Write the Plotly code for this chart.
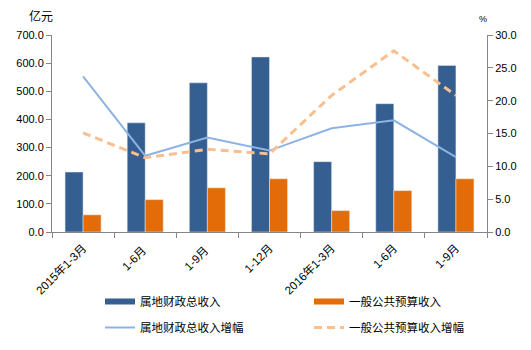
import plotly.graph_objects as go

categories = ["2015年1-3月", "1-6月 ", "1-9月 ", "1-12月", "2016年1-3月", "1-6月", "1-9月"]
total_revenue = [213, 388, 530, 622, 250, 456, 592]
public_budget = [61, 115, 157, 189, 76, 147, 189]
total_growth = [23.7, 11.6, 14.4, 12.4, 15.8, 17.0, 11.4]
public_growth = [15.1, 11.3, 12.6, 11.9, 20.8, 27.6, 20.8]
names = ["属地财政总收入", "一般公共预算收入", "属地财政总收入增幅", "一般公共预算收入增幅"]

C_BLUE = "#365F91"
C_ORANGE = "#E36C09"
C_LBLUE = "#8DB3E2"
C_PEACH = "#F9BF8F"
FONT = "Liberation Sans, Noto Sans CJK SC"

fig = go.Figure()
fig.add_trace(go.Bar(x=categories, y=total_revenue, marker_color=C_BLUE, name=names[0], showlegend=False))
fig.add_trace(go.Bar(x=categories, y=public_budget, marker_color=C_ORANGE, name=names[1], showlegend=False))
fig.add_trace(go.Scatter(x=categories, y=total_growth, mode="lines", yaxis="y2",
                         line=dict(color=C_LBLUE, width=2), name=names[2], legend="legend2"))
fig.add_trace(go.Scatter(x=categories, y=public_growth, mode="lines", yaxis="y2",
                         line=dict(color=C_PEACH, width=3, dash="8px,5px"), name=names[3], legend="legend2"))
# legend entries for the bars, drawn as thick bars like the reference
fig.add_trace(go.Scatter(x=[None], y=[None], mode="lines", line=dict(color=C_BLUE, width=6),
                         name=names[0], legend="legend"))
fig.add_trace(go.Scatter(x=[None], y=[None], mode="lines", line=dict(color=C_ORANGE, width=6),
                         name=names[1], legend="legend"))

axis_common = dict(showline=True, linecolor="#868686", linewidth=1, ticks="outside",
                   tickcolor="#868686", ticklen=5, showgrid=False, zeroline=False,
                   automargin=False,
                   tickfont=dict(size=11, color="#000", family=FONT))

leg_common = dict(orientation="h", xref="container", x=100 / 531, xanchor="left",
                  yref="container", yanchor="middle", bgcolor="rgba(0,0,0,0)",
                  entrywidth=164, entrywidthmode="pixels", traceorder="normal",
                  font=dict(size=11.5, family="Noto Sans CJK SC", color="#000"),
                  itemwidth=30)

fig.update_layout(
    width=531, height=350,
    margin=dict(l=52, r=44, t=35, b=118, autoexpand=False),
    paper_bgcolor="white", plot_bgcolor="white",
    barmode="group", bargap=0.42, bargroupgap=0,
    font=dict(family=FONT, color="#000"),
    xaxis=dict(axis_common, type="category", tickangle=-45, tickson="boundaries",
               ticklabelstandoff=4,
               tickfont=dict(size=11.5, color="#000", family=FONT)),
    yaxis=dict(axis_common, range=[0, 700], dtick=100, tickformat=".1f"),
    yaxis2=dict(axis_common, range=[0, 30], dtick=5, tickformat=".1f", overlaying="y", side="right"),
    legend=dict(leg_common, y=(350 - 301.5) / 350),
    legend2=dict(leg_common, y=(350 - 327.5) / 350),
    annotations=[
        dict(text="亿元", xref="paper", yref="paper", x=-0.025, y=1.1, xanchor="center",
             yanchor="middle", showarrow=False, font=dict(size=12, family="Noto Sans CJK SC")),
        dict(text="%", xref="paper", yref="paper", x=0.99, y=1.08, xanchor="center",
             yanchor="middle", showarrow=False, font=dict(size=9, family=FONT)),
    ],
)

fig.write_html("out.html")
